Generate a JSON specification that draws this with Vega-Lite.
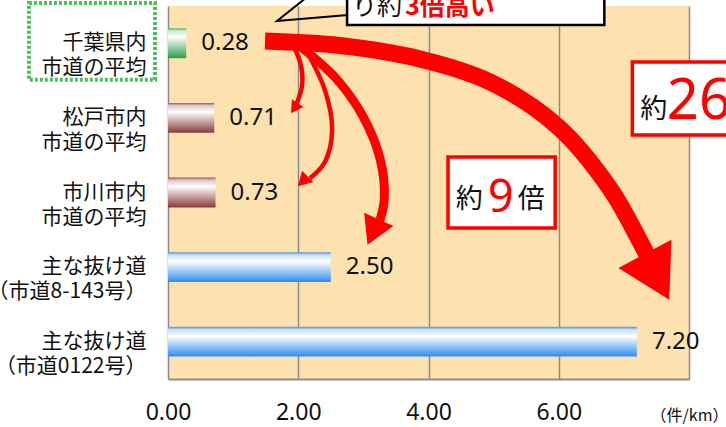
{
  "$schema": "https://vega.github.io/schema/vega-lite/v6.json",
  "width": 521,
  "height": 373,
  "autosize": {"type": "none"},
  "padding": {"left": 168, "top": 6, "right": 37, "bottom": 48},
  "background": "white",
  "config": {
    "font": "Noto Sans CJK JP",
    "view": {"fill": "#fde2b0", "stroke": null}
  },
  "resolve": {"scale": {"y": "independent"}},
  "layer": [
    {
      "data": {"values": [
        {"label": "千葉県内|市道の平均", "value": 0.28, "grp": "green"},
        {"label": "松戸市内|市道の平均", "value": 0.71, "grp": "brown"},
        {"label": "市川市内|市道の平均", "value": 0.73, "grp": "brown"},
        {"label": "主な抜け道|（市道8-143号）", "value": 2.50, "grp": "blue"},
        {"label": "主な抜け道|（市道0122号）", "value": 7.20, "grp": "blue"}
      ]},
      "encoding": {
        "y": {
          "field": "label", "type": "nominal", "sort": null,
          "scale": {
            "domain": ["千葉県内|市道の平均", "松戸市内|市道の平均", "市川市内|市道の平均", "主な抜け道|（市道8-143号）", "主な抜け道|（市道0122号）"],
            "paddingInner": 0.6, "paddingOuter": 0.3
          },
          "axis": {
            "title": null, "labelExpr": "split(datum.value, '|')",
            "labelFontSize": 21, "labelLineHeight": 25, "labelPadding": 22,
            "ticks": false, "domain": false, "labelColor": "#111111",
            "labelFont": "Noto Sans CJK JP", "labelLimit": 300, "grid": false
          }
        },
        "x": {
          "field": "value", "type": "quantitative",
          "scale": {"domain": [0, 8], "nice": false, "zero": false},
          "axis": {
            "title": "（件/km）", "titleX": 521, "titleY": 36, "titleAlign": "center", "titleBaseline": "middle",
            "titleFontSize": 16, "titleFontWeight": "normal", "titleColor": "#111111", "titleFont": "Noto Sans CJK JP",
            "values": [0, 2, 4, 6, 8],
            "labelExpr": "datum.value == 8 ? '' : format(datum.value, '.2f')",
            "grid": true, "gridColor": "#8c8c8c", "gridWidth": 1.5, "gridOpacity": 1,
            "ticks": false, "domainColor": "#8c8c8c", "domainWidth": 2,
            "labelFontSize": 23, "labelPadding": 22, "labelColor": "#111111", "labelFont": "Noto Sans",
            "labelFlush": false, "labelOverlap": false
          }
        }
      },
      "layer": [
        {
          "transform": [{"filter": "datum.grp == 'green'"}],
          "mark": {"type": "bar", "color": {"gradient": "linear", "x1": 0, "y1": 0, "x2": 0, "y2": 1, "stops": [
            {"offset": 0, "color": "#43b05c"}, {"offset": 0.08, "color": "#c9ead0"}, {"offset": 0.28, "color": "#ffffff"}, {"offset": 1, "color": "#2e9e4c"}
          ]}}
        },
        {
          "transform": [{"filter": "datum.grp == 'brown'"}],
          "mark": {"type": "bar", "color": {"gradient": "linear", "x1": 0, "y1": 0, "x2": 0, "y2": 1, "stops": [
            {"offset": 0, "color": "#9c5252"}, {"offset": 0.08, "color": "#dcc3c3"}, {"offset": 0.3, "color": "#ffffff"}, {"offset": 1, "color": "#8b3a3a"}
          ]}}
        },
        {
          "transform": [{"filter": "datum.grp == 'blue'"}],
          "mark": {"type": "bar", "color": {"gradient": "linear", "x1": 0, "y1": 0, "x2": 0, "y2": 1, "stops": [
            {"offset": 0, "color": "#4a90e8"}, {"offset": 0.1, "color": "#cfe2fb"}, {"offset": 0.32, "color": "#ffffff"}, {"offset": 1, "color": "#2b8cf0"}
          ]}}
        },
        {
          "mark": {"type": "text", "align": "left", "baseline": "middle", "dx": 15, "fontSize": 24, "font": "Noto Sans", "color": "#111111"},
          "encoding": {"text": {"field": "value", "type": "quantitative", "format": ".2f"}}
        }
      ]
    },
    {
      "data": {"values": [{"v": -2.135, "v2": -0.2, "r": -0.04, "r2": 0.99}]},
      "mark": {"type": "rect", "fill": null, "fillOpacity": 0, "stroke": "#4cc05e", "strokeWidth": 4, "strokeDash": [3, 2]},
      "encoding": {
        "x": {"field": "v", "type": "quantitative", "scale": {"domain": [0, 8], "nice": false, "zero": false}},
        "x2": {"field": "v2"},
        "y": {"field": "r", "type": "quantitative", "scale": {"domain": [0, 5], "reverse": true, "nice": false, "zero": false}, "axis": null},
        "y2": {"field": "r2"}
      }
    },
    {
      "data": {"values": [
        {"i": 0, "v": 1.92, "r": 0.52}, {"i": 1, "v": 2.04, "r": 0.79}, {"i": 2, "v": 2.06, "r": 1.06}, {"i": 3, "v": 1.98, "r": 1.30}
      ]},
      "mark": {"type": "line", "color": "#ff0000", "strokeWidth": 4.5, "interpolate": "catmull-rom", "strokeCap": "butt"},
      "encoding": {
        "x": {"field": "v", "type": "quantitative", "scale": {"domain": [0, 8], "nice": false, "zero": false}},
        "y": {"field": "r", "type": "quantitative", "scale": {"domain": [0, 5], "reverse": true, "nice": false, "zero": false}, "axis": null},
        "order": {"field": "i", "type": "quantitative"}
      }
    },
    {
      "data": {"values": [
        {"i": 0, "v": 2.10, "r": 0.56}, {"i": 1, "v": 2.41, "r": 1.13}, {"i": 2, "v": 2.52, "r": 1.66}, {"i": 3, "v": 2.41, "r": 2.09}, {"i": 4, "v": 2.18, "r": 2.31}
      ]},
      "mark": {"type": "line", "color": "#ff0000", "strokeWidth": 4.5, "interpolate": "catmull-rom", "strokeCap": "butt"},
      "encoding": {
        "x": {"field": "v", "type": "quantitative", "scale": {"domain": [0, 8], "nice": false, "zero": false}},
        "y": {"field": "r", "type": "quantitative", "scale": {"domain": [0, 5], "reverse": true, "nice": false, "zero": false}, "axis": null},
        "order": {"field": "i", "type": "quantitative"}
      }
    },
    {
      "data": {"values": [
        {"i": 0, "v": 2.03, "r": 0.54}, {"i": 1, "v": 2.60, "r": 0.99}, {"i": 2, "v": 3.00, "r": 1.49}, {"i": 3, "v": 3.26, "r": 2.06}, {"i": 4, "v": 3.32, "r": 2.60}, {"i": 5, "v": 3.24, "r": 2.91}
      ]},
      "mark": {"type": "line", "color": "#ff0000", "strokeWidth": 9, "interpolate": "catmull-rom", "strokeCap": "butt"},
      "encoding": {
        "x": {"field": "v", "type": "quantitative", "scale": {"domain": [0, 8], "nice": false, "zero": false}},
        "y": {"field": "r", "type": "quantitative", "scale": {"domain": [0, 5], "reverse": true, "nice": false, "zero": false}, "axis": null},
        "order": {"field": "i", "type": "quantitative"}
      }
    },
    {
      "data": {"values": [
        {"i": 0, "v": 1.49, "r": 0.47}, {"i": 1, "v": 2.64, "r": 0.53}, {"i": 2, "v": 3.87, "r": 0.71}, {"i": 3, "v": 4.95, "r": 1.02},
        {"i": 4, "v": 5.99, "r": 1.62}, {"i": 5, "v": 6.79, "r": 2.45}, {"i": 6, "v": 7.22, "r": 3.11}, {"i": 7, "v": 7.42, "r": 3.45}
      ]},
      "mark": {"type": "line", "color": "#ff0000", "strokeWidth": 17, "interpolate": "catmull-rom", "strokeCap": "butt"},
      "encoding": {
        "x": {"field": "v", "type": "quantitative", "scale": {"domain": [0, 8], "nice": false, "zero": false}},
        "y": {"field": "r", "type": "quantitative", "scale": {"domain": [0, 5], "reverse": true, "nice": false, "zero": false}, "axis": null},
        "order": {"field": "i", "type": "quantitative"}
      }
    },
    {
      "data": {"values": [{"v": 7.51, "r": 3.63}]},
      "mark": {"type": "point", "shape": "triangle-down", "filled": true, "color": "#ff0000", "opacity": 1, "size": 3600, "angle": -28, "strokeWidth": 0},
      "encoding": {
        "x": {"field": "v", "type": "quantitative", "scale": {"domain": [0, 8], "nice": false, "zero": false}},
        "y": {"field": "r", "type": "quantitative", "scale": {"domain": [0, 5], "reverse": true, "nice": false, "zero": false}, "axis": null}
      }
    },
    {
      "data": {"values": [{"v": 3.15, "r": 3.03}]},
      "mark": {"type": "point", "shape": "triangle-down", "filled": true, "color": "#ff0000", "opacity": 1, "size": 1024, "angle": 24, "strokeWidth": 0},
      "encoding": {
        "x": {"field": "v", "type": "quantitative", "scale": {"domain": [0, 8], "nice": false, "zero": false}},
        "y": {"field": "r", "type": "quantitative", "scale": {"domain": [0, 5], "reverse": true, "nice": false, "zero": false}, "axis": null}
      }
    },
    {
      "data": {"values": [{"v": 1.94, "r": 1.37}]},
      "mark": {"type": "point", "shape": "triangle-down", "filled": true, "color": "#ff0000", "opacity": 1, "size": 196, "angle": 34, "strokeWidth": 0},
      "encoding": {
        "x": {"field": "v", "type": "quantitative", "scale": {"domain": [0, 8], "nice": false, "zero": false}},
        "y": {"field": "r", "type": "quantitative", "scale": {"domain": [0, 5], "reverse": true, "nice": false, "zero": false}, "axis": null}
      }
    },
    {
      "data": {"values": [{"v": 2.07, "r": 2.35}]},
      "mark": {"type": "point", "shape": "triangle-down", "filled": true, "color": "#ff0000", "opacity": 1, "size": 256, "angle": 45, "strokeWidth": 0},
      "encoding": {
        "x": {"field": "v", "type": "quantitative", "scale": {"domain": [0, 8], "nice": false, "zero": false}},
        "y": {"field": "r", "type": "quantitative", "scale": {"domain": [0, 5], "reverse": true, "nice": false, "zero": false}, "axis": null}
      }
    },
    {
      "data": {"values": [{"v": 2.75, "v2": 6.70, "r": -0.4, "r2": 0.255}]},
      "mark": {"type": "rect", "fill": "white", "stroke": "black", "strokeWidth": 2.5},
      "encoding": {
        "x": {"field": "v", "type": "quantitative", "scale": {"domain": [0, 8], "nice": false, "zero": false}},
        "x2": {"field": "v2"},
        "y": {"field": "r", "type": "quantitative", "scale": {"domain": [0, 5], "reverse": true, "nice": false, "zero": false}, "axis": null},
        "y2": {"field": "r2"}
      }
    },
    {
      "data": {"values": [
        {"i": 0, "v": 2.135, "r": -0.12}, {"i": 1, "v": 1.674, "r": 0.20}, {"i": 2, "v": 2.76, "r": 0.12}
      ]},
      "mark": {"type": "line", "color": "black", "strokeWidth": 2},
      "encoding": {
        "x": {"field": "v", "type": "quantitative", "scale": {"domain": [0, 8], "nice": false, "zero": false}},
        "y": {"field": "r", "type": "quantitative", "scale": {"domain": [0, 5], "reverse": true, "nice": false, "zero": false}, "axis": null},
        "order": {"field": "i", "type": "quantitative"}
      }
    },
    {
      "data": {"values": [
        {"v": 4.30, "v2": 5.945, "r": 2.024, "r2": 2.976},
        {"v": 7.13, "v2": 9.5, "r": 0.75, "r2": 1.73}
      ]},
      "mark": {"type": "rect", "fill": "white", "stroke": "#ff0000", "strokeWidth": 3.5},
      "encoding": {
        "x": {"field": "v", "type": "quantitative", "scale": {"domain": [0, 8], "nice": false, "zero": false}},
        "x2": {"field": "v2"},
        "y": {"field": "r", "type": "quantitative", "scale": {"domain": [0, 5], "reverse": true, "nice": false, "zero": false}, "axis": null},
        "y2": {"field": "r2"}
      }
    },
    {
      "data": {"values": [{"t": "り約", "v": 3.594, "r": 0.12}]},
      "mark": {"type": "text", "align": "right", "baseline": "alphabetic", "fontSize": 25, "color": "#111111"},
      "encoding": {
        "x": {"field": "v", "type": "quantitative", "scale": {"domain": [0, 8], "nice": false, "zero": false}},
        "y": {"field": "r", "type": "quantitative", "scale": {"domain": [0, 5], "reverse": true, "nice": false, "zero": false}, "axis": null},
        "text": {"field": "t"}
      }
    },
    {
      "data": {"values": [{"t": "3倍高い", "v": 3.64, "r": 0.12}]},
      "mark": {"type": "text", "align": "left", "baseline": "alphabetic", "fontSize": 25, "fontWeight": "bold", "color": "#ff0000"},
      "encoding": {
        "x": {"field": "v", "type": "quantitative", "scale": {"domain": [0, 8], "nice": false, "zero": false}},
        "y": {"field": "r", "type": "quantitative", "scale": {"domain": [0, 5], "reverse": true, "nice": false, "zero": false}, "axis": null},
        "text": {"field": "t"}
      }
    },
    {
      "data": {"values": [
        {"t": "約", "v": 4.42, "r": 2.71},
        {"t": "倍", "v": 5.37, "r": 2.71},
        {"t": "約", "v": 7.25, "r": 1.50}
      ]},
      "mark": {"type": "text", "align": "left", "baseline": "alphabetic", "fontSize": 27, "color": "#111111"},
      "encoding": {
        "x": {"field": "v", "type": "quantitative", "scale": {"domain": [0, 8], "nice": false, "zero": false}},
        "y": {"field": "r", "type": "quantitative", "scale": {"domain": [0, 5], "reverse": true, "nice": false, "zero": false}, "axis": null},
        "text": {"field": "t"}
      }
    },
    {
      "data": {"values": [{"t": "9", "v": 5.11, "r": 2.755}]},
      "mark": {"type": "text", "align": "center", "baseline": "alphabetic", "fontSize": 45, "font": "Noto Sans", "color": "#ff0000"},
      "encoding": {
        "x": {"field": "v", "type": "quantitative", "scale": {"domain": [0, 8], "nice": false, "zero": false}},
        "y": {"field": "r", "type": "quantitative", "scale": {"domain": [0, 5], "reverse": true, "nice": false, "zero": false}, "axis": null},
        "text": {"field": "t"}
      }
    },
    {
      "data": {"values": [{"t": "26", "v": 7.66, "r": 1.515}]},
      "mark": {"type": "text", "align": "left", "baseline": "alphabetic", "fontSize": 56, "font": "Noto Sans", "color": "#ff0000"},
      "encoding": {
        "x": {"field": "v", "type": "quantitative", "scale": {"domain": [0, 8], "nice": false, "zero": false}},
        "y": {"field": "r", "type": "quantitative", "scale": {"domain": [0, 5], "reverse": true, "nice": false, "zero": false}, "axis": null},
        "text": {"field": "t"}
      }
    }
  ]
}
